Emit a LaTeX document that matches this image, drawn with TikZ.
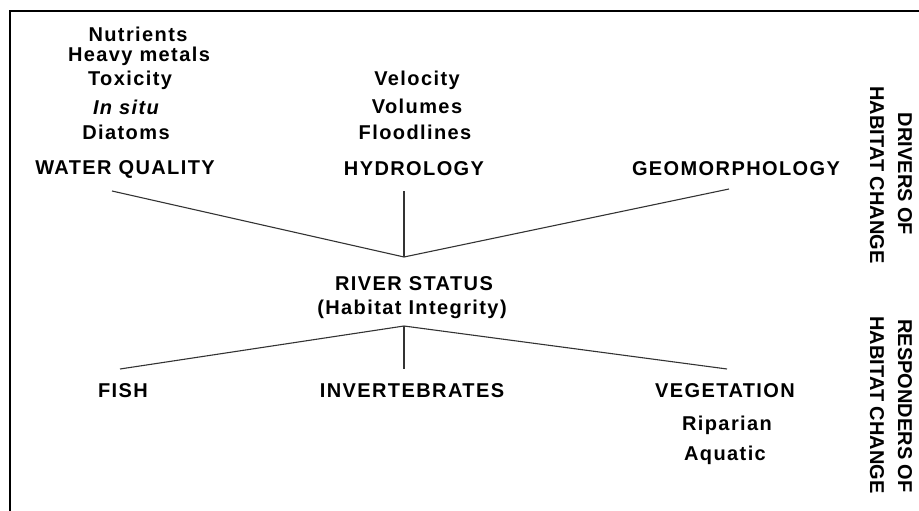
\documentclass[tikz,border=0pt]{standalone}
\usepackage{fontspec}
\setmainfont{Liberation Sans}
\newfontfamily\spacedfont[LetterSpace=7]{Liberation Sans}
\begin{document}
\begin{tikzpicture}[x=1pt,y=-1pt,
  lbl/.style={font=\spacedfont\fontsize{20}{22}\selectfont\bfseries, inner sep=0pt, anchor=center},
  side/.style={font=\fontsize{20}{22}\selectfont\bfseries, inner sep=0pt, anchor=center, rotate=-90},
  conn/.style={draw=black!80, line width=1.1pt},
  frame/.style={draw=black, line width=2pt}]
\useasboundingbox (0,0) rectangle (919,511);
\draw[frame] (10,511) -- (10,11) -- (919,11);
% water quality column
\node[lbl] (nut) at (138,34) {Nutrients};
\node[lbl] (hm) at (139,56) {Heavy metals};
\node[lbl] (tox) at (130,80) {Toxicity};
\node[lbl] (ins) at (126,107) {\itshape In situ};
\node[lbl] (dia) at (126,132) {Diatoms};
\node[lbl] (wq) at (125,169) {WATER QUALITY};
% hydrology
\node[lbl] (vel) at (417,80) {Velocity};
\node[lbl] (vol) at (417,106) {Volumes};
\node[lbl] (fl) at (415,132) {Floodlines};
\node[lbl] (hyd) at (414,169) {HYDROLOGY};
% geomorphology
\node[lbl] (geo) at (736,169) {GEOMORPHOLOGY};
% centre
\node[lbl] (rs) at (414,284) {RIVER STATUS};
\node[lbl] (hi) at (412,309) {(Habitat Integrity)};
\coordinate (top) at (404,257);
\coordinate (bot) at (404,326);
\coordinate (wqe) at (112,191);
\coordinate (hye) at (404,191);
\coordinate (gee) at (729,189);
\draw[conn] (wqe) -- (top) -- (gee);
\draw[conn] (hye) -- (top);
% responders
\node[lbl] (fish) at (123,391) {FISH};
\node[lbl] (inv) at (412,391) {INVERTEBRATES};
\node[lbl] (veg) at (725,391) {VEGETATION};
\node[lbl] (rip) at (727,425) {Riparian};
\node[lbl] (aq) at (725,455) {Aquatic};
\coordinate (fie) at (120,369);
\coordinate (ine) at (404,369);
\coordinate (vee) at (727,369);
\draw[conn] (fie) -- (bot) -- (vee);
\draw[conn] (bot) -- (ine);
% side labels
\node[side] (dr1) at (905,174) {DRIVERS OF};
\node[side] (dr2) at (877,175) {HABITAT CHANGE};
\node[side] (rp1) at (905,406) {RESPONDERS OF};
\node[side] (rp2) at (877,405) {HABITAT CHANGE};
\end{tikzpicture}
\end{document}
